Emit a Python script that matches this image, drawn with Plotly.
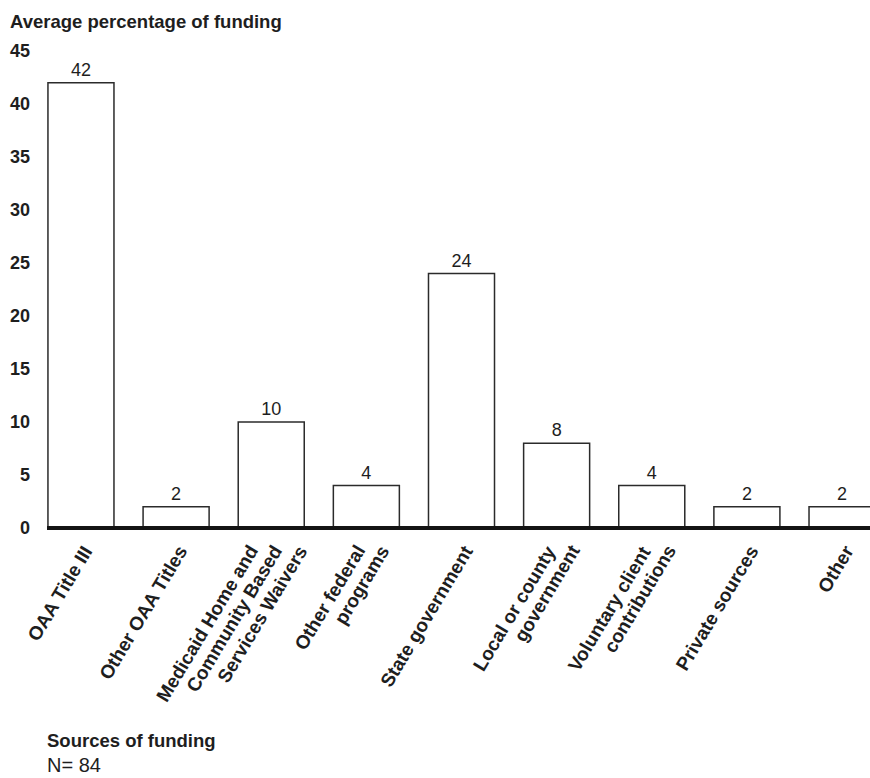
import plotly.graph_objects as go

# Funding sources (each inner list holds the lines of one category label)
category_lines = [
    ["OAA Title III"],
    ["Other OAA Titles"],
    ["Medicaid Home and", "Community Based", "Services Waivers"],
    ["Other federal", "programs"],
    ["State government"],
    ["Local or county", "government"],
    ["Voluntary client", "contributions"],
    ["Private sources"],
    ["Other"],
]
categories = ["<br>".join(lines) for lines in category_lines]
avg_funding_pct = [42, 2, 10, 4, 24, 8, 4, 2, 2]
y_tick_values = [0, 5, 10, 15, 20, 25, 30, 35, 40, 45]

y_axis_title = "Average percentage of funding"
x_axis_title = "Sources of funding"
sample_note = "N= 84"

FONT = "Liberation Sans, Arial, Helvetica, sans-serif"
TEXT = "#1e1e1e"

# plot area geometry (pixels); y=0 sits 2px above the bottom edge
W, H = 870, 778
L, R, T, B = 47, 0, 51, 248
plot_w = W - L - R
plot_h = H - T - B
PX_PER_UNIT = (H - T - B - 2) / 45.0
Y_MIN = -2 / PX_PER_UNIT


def px_x(px):
    return (px - L) / plot_w


def px_y(py):
    return (H - B - py) / plot_h


fig = go.Figure()

fig.add_trace(
    go.Bar(
        x=categories,
        y=avg_funding_pct,
        width=0.694,
        marker=dict(color="white", line=dict(color="#2b2b2b", width=1.5)),
        text=[str(v) for v in avg_funding_pct],
        textposition="outside",
        textfont=dict(family=FONT, size=18, color=TEXT),
        cliponaxis=False,
        hoverinfo="skip",
    )
)

# thick baseline along zero
fig.add_shape(
    type="line", xref="paper", yref="y", x0=0, x1=1, y0=0, y1=0,
    line=dict(color="#141414", width=4), layer="above",
)

annotations = []

# rotated category labels, one annotation per text line
ANGLE = -59
LINE_STEP = 24.5
for i, lines in enumerate(category_lines):
    n = len(lines)
    for k, line in enumerate(lines):
        off = 5 + (k - (n - 1) / 2) * LINE_STEP
        annotations.append(
            dict(
                x=categories[i], xref="x", y=0, yref="y",
                text=line, textangle=ANGLE, showarrow=False,
                xanchor="right", yanchor="top",
                xshift=off + 13, yshift=-11,
                font=dict(family=FONT, size=19, color=TEXT, weight="bold"),
            )
        )

annotations += [
    dict(
        x=px_x(8), y=px_y(21), xref="paper", yref="paper",
        text=y_axis_title, showarrow=False, xanchor="left", yanchor="middle",
        font=dict(family=FONT, size=18.5, color=TEXT, weight="bold"),
    ),
    dict(
        x=px_x(45), y=px_y(740), xref="paper", yref="paper",
        text=x_axis_title, showarrow=False, xanchor="left", yanchor="middle",
        font=dict(family=FONT, size=18.5, color=TEXT, weight="bold"),
    ),
    dict(
        x=px_x(45), y=px_y(778), xref="paper", yref="paper",
        text=sample_note, showarrow=False, xanchor="left", yanchor="bottom",
        font=dict(family=FONT, size=20, color=TEXT),
    ),
]

fig.update_layout(
    width=W, height=H,
    margin=dict(l=L, r=R, t=T, b=B, pad=0),
    paper_bgcolor="white", plot_bgcolor="white",
    showlegend=False,
    annotations=annotations,
    xaxis=dict(
        type="category",
        range=[-0.357, 8.294],
        showticklabels=False, showgrid=False, zeroline=False, showline=False,
        ticks="",
    ),
    yaxis=dict(
        range=[Y_MIN, 45],
        tickvals=y_tick_values,
        ticktext=[str(v) for v in y_tick_values],
        tickfont=dict(family=FONT, size=18, color=TEXT, weight="bold"),
        showgrid=False, zeroline=False, showline=False,
        ticks="", ticklabelstandoff=16,
    ),
)

fig.write_html("out.html")
